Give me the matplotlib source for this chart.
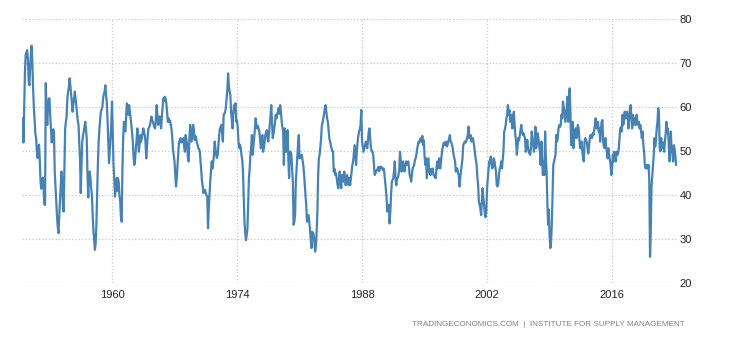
import numpy as np
import matplotlib.pyplot as plt

# ISM manufacturing employment index, monthly readings (one row per year)
ism_1950s = [
    [57.5, 52, 60, 68, 72, 72.5, 73, 71, 66, 65, 69, 72],
    [74, 70, 64, 60, 57, 54, 53, 50, 48.5, 51, 51.5, 47.7],
    [43, 41.5, 42.5, 44, 42, 38, 37.8, 65.5, 59, 56, 60, 62],
    [62, 58, 55, 52, 53, 55, 54.5, 45.5, 42, 38, 35.5, 33],
    [31.4, 35, 38.6, 42, 45.4, 44, 38, 36.3, 46, 55, 56.7, 58],
    [62, 63.6, 64.5, 66.6, 65, 63, 61.3, 59, 60.5, 62, 63.6, 62],
    [60.5, 58.5, 57, 56, 52, 48, 40.5, 47, 52.2, 53.5, 54.5, 55.5],
    [56.7, 55, 53, 45, 39.5, 44, 45.4, 44, 41.6, 40, 35.5, 32],
    [30, 27.6, 29, 33.3, 40, 47, 52, 55, 57, 59, 59.5, 60],
    [62, 63, 63.5, 65, 63, 61, 57, 52, 47.3, 50, 53, 56],
]
ism_1960s = [
    [61.3, 54.5, 47, 43.9, 39.7, 42, 43.9, 41, 43.9, 43, 40, 38.6],
    [35, 34, 46, 53, 56.7, 55, 54.5, 58, 60.9, 59.5, 58.3, 60.5],
    [59, 57.5, 56, 54, 52.2, 48.5, 46.9, 48, 50.7, 52.5, 55.2, 53],
    [49.9, 51.5, 53.7, 52.2, 53, 54, 55.2, 54.5, 53.7, 52, 48.4, 51],
    [53.5, 55.2, 55.5, 56, 57, 57.9, 57, 56.7, 56, 55.5, 55.2, 57.5],
    [60.5, 58, 56, 57, 57.9, 56.5, 55.2, 58, 60, 62, 61.5, 62.4],
    [62, 60.9, 59, 56.7, 57.5, 56.7, 57, 56, 55, 53, 50.3, 49],
    [47.7, 45, 42, 44, 46.9, 49.5, 52.2, 52.5, 53, 52, 52.5, 52.2],
    [53, 51, 49.9, 53.7, 52.5, 51.4, 48.5, 47.7, 53, 56, 54, 52.2],
    [54, 56, 55, 52.6, 53.5, 53, 52, 51.5, 50.7, 50.5, 49.9, 47.5],
]
ism_1970s = [
    [45.4, 43.1, 42, 40.5, 41, 41.2, 40.5, 40, 39.7, 32.5, 37, 40],
    [43.1, 45.5, 47.7, 46.1, 47.5, 49.2, 52.2, 50.5, 49.2, 48.5, 49.2, 51.5],
    [53.7, 55.2, 55.5, 56, 54, 52.2, 58.3, 58.5, 59, 60, 62, 64],
    [67.7, 65, 63.6, 62.8, 59, 57, 55.2, 58.5, 60.5, 60, 60.9, 56.7],
    [57, 55.2, 52, 50.7, 51.5, 50.7, 49.2, 48, 45.4, 39.3, 34, 31.5],
    [29.8, 31, 32.5, 38.6, 43.9, 46, 49.2, 51, 53.7, 49.2, 51, 53],
    [55, 57.5, 56, 55.2, 55.8, 55.2, 54.5, 52.5, 50.7, 52, 53.7, 49.9],
    [50.7, 52, 53.7, 54.2, 54.8, 53, 52.2, 54, 56, 58, 60.5, 57],
    [53, 54, 55.2, 56.5, 58.3, 57.5, 58.5, 59, 59.8, 58.5, 60.5, 59],
    [56.7, 55.5, 54.5, 46.9, 55.2, 52, 49.9, 51.5, 54.8, 48, 43.9, 49.9],
]
ism_1980s = [
    [49.9, 49.2, 46, 43.1, 33.3, 34, 35.5, 43.1, 46, 49.2, 51.5, 53.7],
    [48.4, 48.5, 48.8, 49.2, 48, 46.9, 45, 42.3, 40, 37.8, 34, 35],
    [35.5, 34, 32.5, 30, 28, 31.7, 31.5, 31, 29, 27.2, 28.5, 31.7],
    [36.3, 44.6, 48.4, 49.2, 51, 53, 56, 56.5, 57.5, 58.5, 59.8, 60.5],
    [59, 57.5, 56.7, 55, 53, 52.2, 51.5, 50.7, 50, 49.9, 45.4, 46],
    [44.6, 45, 43.9, 42.5, 41.6, 43.5, 45.4, 43, 41.6, 44.6, 43.5, 43.1],
    [45.4, 44, 42.3, 43.5, 44.6, 43.5, 42.3, 44, 42.3, 43.9, 45.5, 46.9],
    [47.7, 49.5, 51.4, 49, 46.9, 50, 52.2, 53.5, 54.5, 55, 56, 59.4],
    [52.2, 51, 49.9, 50.7, 51.5, 52.2, 51.5, 50.7, 52.5, 54.5, 55.2, 53],
    [50.7, 50, 49.9, 49.2, 47, 44.6, 45, 45.4, 45.8, 46, 46.5, 45.5],
]
ism_1990s = [
    [46.1, 46.5, 46.5, 46.1, 45.8, 46.1, 45, 43.1, 41.5, 39.3, 36.3, 37.8],
    [37.8, 33.6, 36.3, 40, 43.1, 43.5, 43.9, 45.5, 47.7, 44, 42.3, 43.9],
    [43.9, 44.6, 46, 49.9, 48, 45.4, 46.5, 47.7, 46, 45.4, 46.5, 47.7],
    [47.5, 46.9, 47.7, 46.5, 44.6, 44, 43.1, 44.5, 46.1, 46.5, 46.9, 48],
    [48.4, 49.2, 50.5, 51.4, 52.2, 52, 52.6, 53, 52.2, 53.5, 51.4, 52.5],
    [49, 46.9, 48.4, 43.9, 46, 48.4, 46.1, 45, 44.6, 46, 45.4, 46.1],
    [44.6, 44.6, 44, 43.9, 46, 47.7, 46.1, 47, 48.4, 46.1, 47.5, 49.2],
    [50.5, 51.4, 52, 51.4, 51.8, 52.2, 51.1, 51.5, 52.2, 53, 53.7, 52.2],
    [52, 51.4, 50.5, 49.2, 48.5, 47.7, 45.4, 46, 46.1, 45, 44.6, 42],
    [44, 45.4, 47, 48.4, 51.4, 51.8, 52.2, 52, 52.2, 53, 53.5, 55.6],
]
ism_2000s = [
    [53, 53.5, 53.7, 52.2, 52.5, 53, 52, 50.7, 49.2, 48, 46.9, 44],
    [42.3, 38.6, 37.8, 37, 35.5, 38.6, 41.6, 39.5, 37.8, 35.5, 35, 36.3],
    [41.6, 44, 46.1, 47.7, 48, 48.8, 46.9, 46.1, 46.5, 48.4, 47.7, 46.5],
    [45.4, 42.3, 42, 42.5, 44.6, 46.1, 46.5, 47.7, 46.1, 48, 49.9, 54.5],
    [55, 56, 57.5, 58.3, 60.5, 58.3, 59.4, 56.7, 57.5, 58.3, 55.2, 57],
    [59, 56, 53.7, 52.2, 49.2, 51, 53, 52.5, 53.7, 55, 56, 54.5],
    [53.7, 54.1, 53.5, 53, 49.9, 51, 52.6, 51, 49.9, 49.5, 49.2, 50.7],
    [54.5, 53, 52.2, 49.9, 51.5, 55.6, 50.7, 52, 54.1, 53, 51.5, 49.9],
    [46.9, 52.2, 48, 44.6, 47.7, 44.6, 54.5, 48.5, 45.4, 38.6, 33.3, 36.7],
    [31, 28, 29.5, 33.3, 40, 46.9, 47.7, 48.5, 49.2, 53.7, 52.2, 53],
]
ism_2010s = [
    [55.2, 56, 55.5, 56, 58.3, 57.5, 61.3, 60, 59, 56.7, 58, 59.8],
    [62.4, 56.7, 61.3, 64.3, 59, 51.4, 54, 56.7, 50.7, 53, 54, 55.2],
    [53, 54.5, 56, 55.2, 53, 50.7, 51.5, 52.2, 49.9, 48.5, 47.7, 52.2],
    [53, 52.5, 52.2, 50.7, 49.5, 51, 53, 53.7, 53.2, 53, 54.1, 53.7],
    [54.8, 56, 57.5, 55.2, 56, 56.7, 54.5, 55.2, 52.2, 55, 56.7, 57.1],
    [52.2, 51, 50.7, 53, 51, 49.9, 48.4, 50.7, 49.2, 48, 46.9, 44.6],
    [46, 49.2, 47.7, 49.9, 48.5, 47.7, 49.9, 49.2, 49.5, 50.7, 53, 55.2],
    [55.5, 54.5, 58.3, 56, 57, 59, 57.5, 58.5, 59, 58.3, 55.2, 57.5],
    [59.8, 60.5, 57.5, 55.2, 58.3, 56, 57.5, 56.5, 56, 58.3, 56.5, 56],
    [56.7, 55.2, 56, 54.5, 53, 54.5, 51.5, 49.9, 46.9, 46.1, 46.5, 46.9],
]
ism_2020s = [
    [46.1, 46.9, 43.5, 26, 32, 42, 44.5, 47, 49.2, 53, 51.1, 52.5],
    [55.2, 56.7, 59.8, 58.3, 50.7, 50, 53, 50.7, 51.4, 52, 49.9, 52.2],
    [54, 56.7, 54.5, 55.2, 52.2, 47.7, 49.5, 54.5, 49.9, 50, 47.7, 51.4],
    [50.6, 49.1, 46.9],
]

year_ticks = [1960, 1974, 1988, 2002, 2016]
value_ticks = [20, 30, 40, 50, 60, 70, 80]
source_note = "TRADINGECONOMICS.COM  |  INSTITUTE FOR SUPPLY MANAGEMENT"

rows = ism_1950s + ism_1960s + ism_1970s + ism_1980s + ism_1990s + ism_2000s + ism_2010s + ism_2020s
values = np.array([v for row in rows for v in row])
dates = 1950 + np.arange(len(values)) / 12.0

plt.rcParams['font.family'] = ['Liberation Sans', 'DejaVu Sans']

fig = plt.figure(figsize=(7.3, 3.4), dpi=100)
ax = fig.add_axes([22 / 730, 56.7 / 340, 655 / 730, 264 / 340])

ax.plot(dates, values, color='#4682b4', linewidth=1.6, solid_joinstyle='round')

ax.set_xlim(1949.92, 2023.27)
ax.set_ylim(20, 80)
ax.set_xticks(year_ticks)
ax.set_xticklabels([str(y) for y in year_ticks])
ax.set_yticks(value_ticks)
ax.yaxis.tick_right()

ax.grid(True, linestyle=':', color='#c8c8c8', linewidth=0.9)
for side in ax.spines.values():
    side.set_visible(False)
ax.tick_params(axis='both', length=0, labelsize=8, colors='#222222')
ax.tick_params(axis='x', pad=5)
ax.tick_params(axis='y', pad=2)

fig.text(685 / 730, (340 - 324) / 340, source_note, ha='right', va='center',
         fontsize=5.9, color='#808080')

fig.savefig('out.png', dpi=100)
